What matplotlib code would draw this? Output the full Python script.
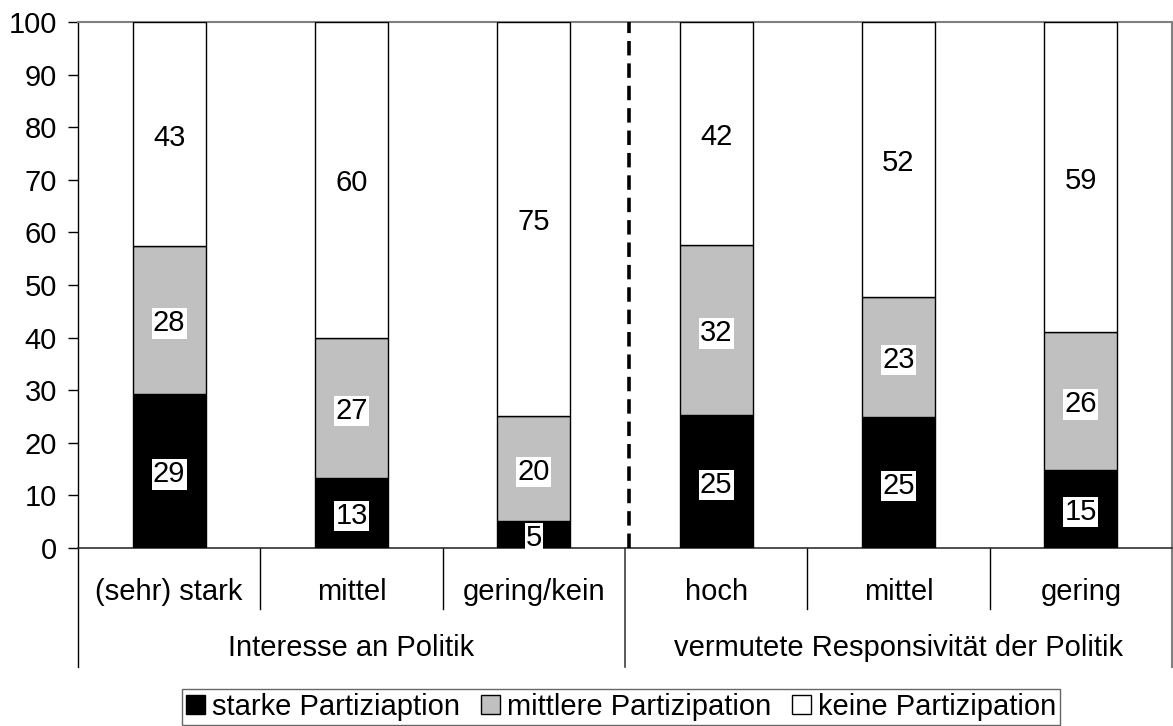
import matplotlib
matplotlib.use("Agg")
import matplotlib.pyplot as plt
import matplotlib.transforms as mtransforms
from matplotlib.patches import Patch

plt.rcParams['font.family'] = ['Liberation Sans', 'DejaVu Sans']

categories = ["(sehr) stark", "mittel", "gering/kein", "hoch", "mittel", "gering"]
groups = ["Interesse an Politik", "vermutete Responsivität der Politik"]
series_names = ["starke Partiziaption", "mittlere Partizipation", "keine Partizipation"]
starke = [29.3, 13.4, 5.1, 25.3, 25.0, 14.9]
mittlere = [28.1, 26.6, 20.0, 32.3, 22.8, 26.1]
keine = [42.6, 60.0, 74.9, 42.4, 52.2, 59.0]
colors = ["#000000", "#C0C0C0", "#FFFFFF"]

FS = 21

fig = plt.figure(figsize=(11.73, 7.26), dpi=100)
ax = fig.add_axes([78/1173, 1-548/726, (1172-78)/1173, (548-22)/726])

label_trans = mtransforms.offset_copy(ax.transData, fig=fig, y=-2.5, units="points")

x = list(range(len(categories)))
bottom = [0.0]*len(x)
for vals, col, name in zip([starke, mittlere, keine], colors, series_names):
    ax.bar(x, vals, width=0.4, bottom=bottom, color=col, edgecolor="black",
           linewidth=1.0, zorder=3, label=name)
    for xi, v, b in zip(x, vals, bottom):
        ax.text(xi, b + v/2, f"{round(v):d}", ha="center", va="center",
                fontsize=FS, zorder=5, transform=label_trans,
                bbox=dict(boxstyle="square,pad=0.04", fc="white", ec="none"))
    bottom = [b + v for b, v in zip(bottom, vals)]

ax.set_xlim(-0.5, 5.5)
ax.set_ylim(0, 100)
ax.set_yticks(range(0, 101, 10))
ax.tick_params(axis="y", length=7.2, width=1, pad=8, labelsize=FS, direction="out")
ax.set_xticks([])

for s in ["top", "right"]:
    ax.spines[s].set_color("#808080")
    ax.spines[s].set_linewidth(1.5)
ax.spines["left"].set_color("black")
ax.spines["bottom"].set_color("#303030")
ax.spines["left"].set_linewidth(1.0)
ax.spines["bottom"].set_linewidth(1.2)

# dashed divider
ax.plot([2.52, 2.52], [0, 100], color="black", linestyle=(0, (4, 2.2)), linewidth=2.6, zorder=4)

trans = mtransforms.blended_transform_factory(ax.transData, ax.transAxes)
short = -61/526
long_ = -119/526
for b in [0.5, 1.5, 3.5, 4.5]:
    ax.plot([b, b], [0, short], transform=trans, color="black", lw=1, clip_on=False)
ax.plot([-0.5, -0.5], [0, long_], transform=trans, color="black", lw=1, clip_on=False)
ax.plot([2.5, 2.5], [0, long_], transform=trans, color="#404040", lw=1.2, clip_on=False)
ax.plot([5.5, 5.5], [0, long_], transform=trans, color="#808080", lw=1.5, clip_on=False)

for xi, c in zip(x, categories):
    ax.text(xi, -44/526, c, transform=trans, ha="center", va="center", fontsize=FS)
ax.text(1.0, -100/526, groups[0], transform=trans, ha="center", va="center", fontsize=FS)
ax.text(4.0, -100/526, groups[1], transform=trans, ha="center", va="center", fontsize=FS)

handles = [Patch(facecolor=c, edgecolor="black", linewidth=1) for c in colors]
leg = fig.legend(handles, series_names, loc="center", bbox_to_anchor=(621/1173, 1-707/726),
                 ncol=3, fontsize=FS, frameon=True, fancybox=False, edgecolor="#404040",
                 handlelength=0.65, handleheight=0.65, handletextpad=0.25, columnspacing=0.7,
                 borderpad=0.15, borderaxespad=0)
leg.get_frame().set_linewidth(1.0)

fig.savefig("out.png", dpi=100)
